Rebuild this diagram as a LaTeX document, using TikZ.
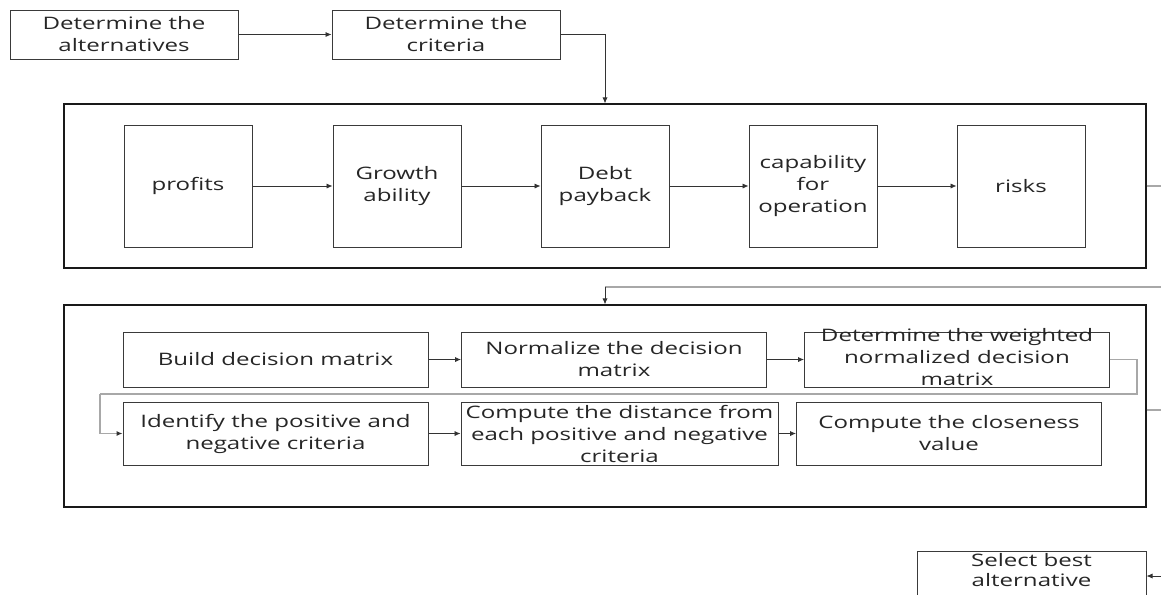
\documentclass[tikz,border=0pt]{standalone}
\usepackage{fontspec}
\setmainfont{Open Sans}[FakeStretch=1.4]
\usepackage{xcolor}
\usetikzlibrary{arrows.meta}

\definecolor{boxgray}{HTML}{3A3A3A}
\definecolor{linegray}{HTML}{A8A8A8}

\tikzset{
    txt/.style={font=\fontsize{8.6}{11}\selectfont, text=black!85, align=center},
    stagebox/.style={txt, draw=boxgray, line width=0.5pt, minimum width=114pt, minimum height=24.5pt, inner sep=1pt},
    critbox/.style={txt, draw=boxgray, line width=0.5pt, minimum width=64pt, minimum height=61pt, inner sep=1pt},
    topsisbox/.style={txt, draw=boxgray, line width=0.5pt, minimum width=152.5pt, inner sep=1pt},
    outerbox/.style={draw=black!90, line width=0.6pt, minimum width=541pt},
    flow/.style={-{Latex[length=3pt,width=2.6pt]}, line width=0.4pt, draw=black!80},
    greyline/.style={line width=0.6pt, draw=linegray},
}

\begin{document}
\begin{tikzpicture}[x=0.5pt, y=-0.5pt]
            \useasboundingbox (0,0) rectangle (1161,594);

            \node[stagebox] (alt) at (124, 34.5) {Determine the\\alternatives};
            \node[stagebox] (crit) at (446, 34.5) {Determine the\\criteria};

            \node[outerbox, minimum height=82pt] (box1) at (605, 186) {};
            \node[critbox] (c1) at (188, 186) {profits};
            \node[critbox] (c2) at (397, 186) {Growth\\ability};
            \node[critbox] (c3) at (605, 186) {Debt\\payback};
            \node[critbox] (c4) at (813, 186) {capability\\for\\operation};
            \node[critbox] (c5) at (1021, 186) {risks};

            \node[outerbox, minimum height=101pt] (box2) at (605, 406) {};
            \node[topsisbox, minimum height=27.5pt] (build) at (275.5, 359.5) {Build decision matrix};
            \node[topsisbox, minimum height=27.5pt] (norm) at (614, 359.5) {Normalize the decision\\matrix};
            \node[topsisbox, minimum height=27.5pt, inner ysep=0pt, text height=26.9pt, text depth=0.6pt] (wtd) at (957, 359.5) {Determine the weighted\\normalized decision\\matrix};
            \node[topsisbox, minimum height=31.5pt] (ident) at (275.5, 433.5) {Identify the positive and\\negative criteria};
            \node[topsisbox, minimum width=158.5pt, minimum height=31.5pt] (dist) at (619.5, 433.5) {Compute the distance from\\each positive and negative\\criteria};
            \node[topsisbox, minimum height=31.5pt] (close) at (949, 433.5) {Compute the closeness\\value};

            \node[stagebox, font=\fontsize{8.6}{10}\selectfont, minimum width=114.5pt, anchor=north, text depth=14pt] (best) at (1031.5, 551) {Select best\\alternative};

            \coordinate (out1) at (1170, 186);
            \coordinate (in2) at (1170, 287);
            \coordinate (bend2) at (605, 287);
            \coordinate (out2) at (1170, 410);
            \coordinate (ret) at (100, 394);
            \coordinate (in3) at (1170, 576);

            \draw[flow] (alt) -- (crit);
            \draw[flow] (crit.east) -| (box1.north);
            \draw[flow] (c1) -- (c2);
            \draw[flow] (c2) -- (c3);
            \draw[flow] (c3) -- (c4);
            \draw[flow] (c4) -- (c5);
            \draw[greyline] (box1.east) -- (out1);
            \draw[greyline] (in2) -- (bend2);
            \draw[flow] (bend2) -- (box2.north);
            \draw[flow] (build) -- (norm);
            \draw[flow] (norm) -- (wtd);
            \draw[greyline] (wtd.east) -- ++(27, 0) |- (ret);
            \draw[greyline, -{Latex[length=3pt,width=2.6pt,color=black!80]}] (ret) |- (ident.west);
            \draw[flow] (ident) -- (dist);
            \draw[flow] (dist) -- (close);
            \draw[greyline] (out2 -| box2.east) -- (out2);
            \draw[flow] (in3) -- (in3 -| best.east);
        \end{tikzpicture}
\end{document}
